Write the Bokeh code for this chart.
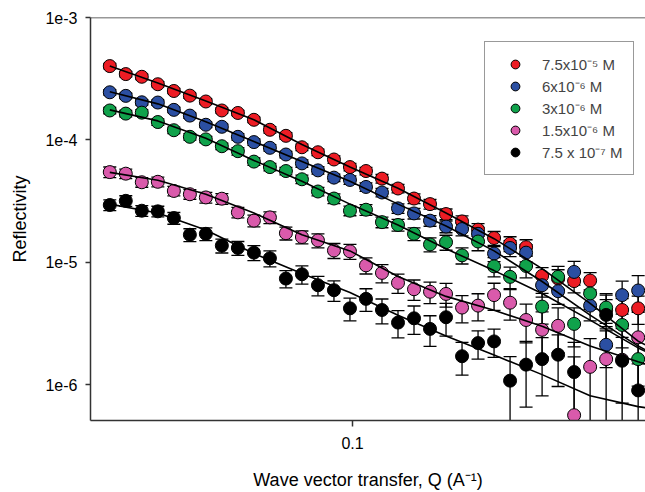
import numpy as np
from bokeh.plotting import figure
from bokeh.models import (ColumnDataSource, Whisker, TeeHead, Legend, LegendItem,
                          FixedTicker, CustomJSTickFormatter, Span, Range1d)
from bokeh.embed import file_html
from bokeh.resources import INLINE

nan = float("nan")

# Wave vector transfer Q (A^-1)
q = [0.03121, 0.03370, 0.03639, 0.03930, 0.04244, 0.04583, 0.04948, 0.05343,
     0.05770, 0.06231, 0.06728, 0.07265, 0.07845, 0.08472, 0.09148, 0.09878,
     0.10667, 0.11518, 0.12438, 0.13431, 0.14503, 0.15661, 0.16911, 0.18261,
     0.19719, 0.21293, 0.22993, 0.24829, 0.26811, 0.28951, 0.31262, 0.33758,
     0.36453, 0.39363]

red = [4.01e-4, 3.45e-4, 3.28e-4, 2.85e-4, 2.51e-4, 2.30e-4, 2.06e-4, 1.74e-4,
       1.66e-4, 1.46e-4, 1.21e-4, 1.08e-4, 8.71e-5, 7.93e-5, 6.92e-5, 6.00e-5,
       5.57e-5, 4.83e-5, 4.01e-5, 3.32e-5, 2.99e-5, 2.48e-5, 2.16e-5, 1.85e-5,
       1.58e-5, 1.42e-5, 1.33e-5, 7.75e-6, 7.37e-6, 7.03e-6, 7.10e-6, 4.06e-6,
       4.08e-6, 4.21e-6]
blue = [2.45e-4, 2.29e-4, 2.03e-4, 2.02e-4, 1.76e-4, 1.58e-4, 1.33e-4, 1.28e-4,
        1.06e-4, 9.60e-5, 8.62e-5, 7.60e-5, 6.43e-5, 5.64e-5, 4.92e-5, 4.71e-5,
        4.13e-5, 3.72e-5, 2.76e-5, 2.51e-5, 2.19e-5, 1.96e-5, 1.87e-5, 1.71e-5,
        1.18e-5, 1.31e-5, 1.20e-5, 6.50e-6, 5.81e-6, 8.35e-6, 4.43e-6, 2.12e-6,
        5.40e-6, 5.89e-6]
green = [1.74e-4, 1.64e-4, 1.67e-4, 1.40e-4, 1.20e-4, 1.06e-4, 1.01e-4, 8.88e-5,
         8.09e-5, 6.65e-5, 6.00e-5, 5.57e-5, 4.77e-5, 3.79e-5, 3.32e-5, 2.64e-5,
         2.69e-5, 2.13e-5, 2.02e-5, 1.71e-5, 1.40e-5, 1.46e-5, 1.14e-5, 1.48e-5,
         9.27e-6, 7.61e-6, 9.34e-6, 4.35e-6, 7.61e-6, 3.14e-6, 5.57e-6, 4.27e-6,
         3.08e-6, 1.62e-6]
pink = [5.46e-5, 5.30e-5, 4.51e-5, 4.55e-5, 3.83e-5, 3.60e-5, 3.39e-5, 3.31e-5,
        2.56e-5, 2.19e-5, 2.33e-5, 1.73e-5, 1.61e-5, 1.51e-5, 1.25e-5, 1.23e-5,
        9.45e-6, 8.20e-6, 6.80e-6, 6.03e-6, 5.75e-6, 5.52e-6, 4.27e-6, 4.43e-6,
        5.40e-6, 4.68e-6, 3.38e-6, 2.81e-6, 3.03e-6, 5.64e-7, 1.40e-6, 1.62e-6,
        1.60e-6, 2.44e-6]
black = [2.94e-5, 3.18e-5, 2.64e-5, 2.61e-5, 2.30e-5, 1.68e-5, 1.71e-5, 1.37e-5,
         1.31e-5, 1.20e-5, 1.08e-5, 7.37e-6, 7.99e-6, 6.50e-6, 5.92e-6, 4.21e-6,
         5.03e-6, 4.08e-6, 3.22e-6, 3.49e-6, 2.86e-6, 3.56e-6, 1.71e-6, 2.19e-6,
         2.26e-6, 1.08e-6, 1.46e-6, 1.62e-6, 1.76e-6, 1.27e-6, nan, 3.72e-6,
         1.57e-6, 8.99e-7]

# relative (fractional) errors
err_red = [0.05, 0.05, 0.05, 0.05, 0.05, 0.05, 0.05, 0.05, 0.05, 0.05,
           0.06, 0.06, 0.06, 0.06, 0.07, 0.07, 0.07, 0.08, 0.08, 0.09, 0.09, 0.10,
           0.11, 0.12, 0.13, 0.14, 0.15, 0.17, 0.18, 0.20, 0.16, 0.22, 0.24, 0.26]
err_blue = [0.05, 0.05, 0.05, 0.05, 0.05, 0.05, 0.05, 0.05, 0.06, 0.06,
            0.06, 0.06, 0.07, 0.07, 0.07, 0.08, 0.08, 0.08, 0.09, 0.10, 0.10, 0.11,
            0.12, 0.13, 0.14, 0.15, 0.16, 0.20, 0.22, 0.22, 0.25, 0.35, 0.30, 0.32]
err_green = [0.06, 0.06, 0.06, 0.06, 0.06, 0.06, 0.06, 0.06, 0.07, 0.07,
             0.07, 0.07, 0.08, 0.08, 0.09, 0.09, 0.10, 0.10, 0.11, 0.12, 0.13, 0.14,
             0.15, 0.16, 0.18, 0.20, 0.20, 0.28, 0.22, 0.35, 0.26, 0.30, 0.35, 0.45]
err_pink = [0.10, 0.09, 0.09, 0.09, 0.09, 0.09, 0.10, 0.10, 0.10, 0.11,
            0.11, 0.12, 0.12, 0.13, 0.14, 0.14, 0.15, 0.17, 0.18, 0.19, 0.20, 0.22,
            0.25, 0.25, 0.25, 0.28, 0.35, 0.40, 0.40, 2.00, 0.70, 0.70, 0.80, 0.60]
err_black = [0.10, 0.10, 0.10, 0.10, 0.11, 0.12, 0.12, 0.13, 0.13, 0.14,
             0.15, 0.16, 0.17, 0.18, 0.19, 0.21, 0.21, 0.23, 0.25, 0.26, 0.28, 0.30,
             0.30, 0.26, 0.26, 0.57, 0.55, 0.50, 0.45, 0.75, nan, 0.45, 0.55, 0.65]

# model fit curves
fit_q = [0.03121, 0.03930, 0.04948, 0.06231, 0.07845, 0.09878, 0.12438,
         0.15661, 0.19719, 0.24829, 0.31262, 0.39363, 0.42]
fit_red = [4.01e-4, 2.92e-4, 2.08e-4, 1.46e-4, 9.17e-5, 6.00e-5, 4.03e-5,
           2.53e-5, 1.56e-5, 8.88e-6, 4.62e-6, 2.27e-6, 2.00e-6]
fit_blue = [2.47e-4, 1.97e-4, 1.41e-4, 9.69e-5, 6.67e-5, 4.59e-5, 2.99e-5,
            1.98e-5, 1.24e-5, 6.97e-6, 3.70e-6, 2.07e-6, 1.82e-6]
fit_green = [1.76e-4, 1.43e-4, 1.03e-4, 6.80e-5, 4.59e-5, 2.99e-5, 2.02e-5,
             1.29e-5, 8.56e-6, 5.57e-6, 3.37e-6, 2.00e-6, 1.78e-6]
fit_pink = [5.43e-5, 4.68e-5, 3.60e-5, 2.53e-5, 1.68e-5, 1.24e-5, 7.65e-6,
            5.27e-6, 4.06e-6, 3.01e-6, 2.07e-6, 1.54e-6, 1.43e-6]
fit_black = [2.99e-5, 2.53e-5, 1.84e-5, 1.18e-5, 8.09e-6, 5.68e-6, 3.70e-6,
             2.50e-6, 1.75e-6, 1.21e-6, 8.14e-7, 6.63e-7, 6.39e-7]

labels = ["7.5x10\u207b\u2075 M", "6x10\u207b\u2076 M", "3x10\u207b\u2076 M",
          "1.5x10\u207b\u2076 M", "7.5 x 10\u207b\u2077 M"]
colors = ["#ED1C24", "#2B4FA2", "#10A24B", "#D95AAB", "#000000"]

series = [
    (red, err_red, fit_red),
    (blue, err_blue, fit_blue),
    (green, err_green, fit_green),
    (pink, err_pink, fit_pink),
    (black, err_black, fit_black),
]

FONT = "Liberation Sans"

p = figure(width=645, height=492, x_axis_type="log", y_axis_type="log",
           x_range=Range1d(0.028452, 0.40775), y_range=Range1d(5.105e-7, 1e-3),
           output_backend="svg", toolbar_location=None,
           min_border_left=90, min_border_right=0, min_border_top=17,
           min_border_bottom=69)
p.outline_line_color = None
p.xgrid.visible = False
p.ygrid.visible = False
p.background_fill_color = "white"
p.border_fill_color = "white"

renderers = []
for (vals, errs, fit), col in zip(series, colors):
    v = np.array(vals, dtype=float)
    e = np.array(errs, dtype=float)
    lower = np.maximum(v * (1 - e), 1e-9)
    upper = v * (1 + e)
    src = ColumnDataSource(dict(q=q, v=v, lower=lower, upper=upper))
    w = Whisker(base="q", lower="lower", upper="upper", source=src,
                line_color="black", line_width=1.3,
                upper_head=TeeHead(size=13, line_color="black", line_width=1.3),
                lower_head=TeeHead(size=13, line_color="black", line_width=1.3))
    p.add_layout(w)
    r = p.scatter("q", "v", source=src, size=13, fill_color=col,
                  line_color="black", line_width=1)
    renderers.append(r)

for (vals, errs, fit), col in zip(series, colors):
    p.line(fit_q, fit, line_color="black", line_width=1.6)

# top frame line
p.add_layout(Span(location=1e-3, dimension="width", line_color="#333333",
                  line_width=1.5))

for ax in (p.xaxis[0], p.yaxis[0]):
    ax.axis_line_color = "#333333"
    ax.axis_line_width = 1.5
    ax.major_tick_line_color = "#333333"
    ax.major_tick_line_width = 1.5
    ax.major_tick_in = 0
    ax.minor_tick_line_color = None
    ax.major_label_text_font = FONT
    ax.major_label_text_font_size = "16px"
    ax.major_label_text_color = "black"
    ax.axis_label_text_font = FONT
    ax.axis_label_text_font_size = "18px"
    ax.axis_label_text_font_style = "normal"
    ax.axis_label_text_color = "black"

p.xaxis.ticker = FixedTicker(ticks=[0.1], minor_ticks=[])
p.xaxis.formatter = CustomJSTickFormatter(code="return tick.toFixed(1);")
p.xaxis.major_tick_out = 6
p.xaxis.major_label_standoff = 10
p.xaxis.axis_label = "Wave vector transfer, Q (A\u207b\u00b9)"
p.xaxis.axis_label_standoff = 18

p.yaxis.ticker = FixedTicker(ticks=[1e-6, 1e-5, 1e-4, 1e-3], minor_ticks=[])
p.yaxis.formatter = CustomJSTickFormatter(
    code="return '1e' + Math.round(Math.log10(tick));")
p.yaxis.major_tick_out = 5
p.yaxis.major_label_standoff = 8
p.yaxis.axis_label = "Reflectivity"
p.yaxis.axis_label_standoff = 12

legend = Legend(items=[LegendItem(label=l, renderers=[r])
                       for l, r in zip(labels, renderers)],
                location=(394, 245), orientation="vertical",
                padding=11, margin=0, spacing=0,
                glyph_width=38, glyph_height=22, label_standoff=8,
                label_height=22,
                label_text_font=FONT, label_text_font_size="15px",
                border_line_color="#333333", border_line_width=1,
                background_fill_color="white", background_fill_alpha=1.0)
p.add_layout(legend)

open("out.html", "w").write(file_html(p, INLINE))
